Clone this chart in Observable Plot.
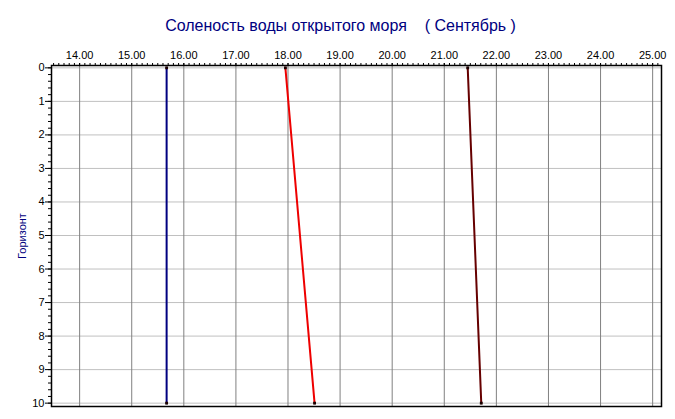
<!DOCTYPE html>
<html><head><meta charset="utf-8">
<script src="https://cdn.jsdelivr.net/npm/d3@7"></script>
<script src="https://cdn.jsdelivr.net/npm/@observablehq/plot@0.6"></script>
<style>body{margin:0;background:#fff}</style>
</head><body><div id="chart"></div>
<script>
const titleText = "Соленость воды открытого моря\u00A0\u00A0\u00A0\u00A0( Сентябрь )";
const yLabel = "Горизонт";
const horizons = [0, 10];
const seriesBlue = [15.67, 15.67];
const seriesRed = [17.95, 18.51];
const seriesDark = [21.45, 21.71];
const xTicks = [14, 15, 16, 17, 18, 19, 20, 21, 22, 23, 24, 25];
const yTicks = [0, 1, 2, 3, 4, 5, 6, 7, 8, 9, 10];

const series = [
  {values: seriesBlue, color: "#000080"},
  {values: seriesRed, color: "#ee0000"},
  {values: seriesDark, color: "#660000"}
];
const rows = series.flatMap((s, k) => horizons.map((h, i) => ({k, h, v: s.values[i], color: s.color})));

const xMinor = d3.range(135, 252).map(d => d / 10);
const yMinor = d3.range(0, 51).map(d => d / 5);

const font = "Arial, 'Liberation Sans', sans-serif";
const chart = Plot.plot({
  width: 675,
  height: 419,
  marginLeft: 51,
  marginRight: 14,
  marginTop: 65,
  marginBottom: 13,
  style: {fontFamily: font, fontSize: "11px", color: "#000", background: "#fff"},
  x: {domain: [13.46, 25.17], axis: null},
  y: {domain: [-0.07, 10.1], reverse: true, axis: null},
  marks: [
    Plot.ruleY(yTicks, {stroke: "#c0c0c0", strokeWidth: 1}),
    Plot.ruleX(xTicks, {stroke: "#808080", strokeWidth: 1}),
    Plot.axisX(xMinor, {anchor: "top", tickSize: 3, text: null, stroke: "#000", label: null}),
    Plot.axisX(xTicks, {anchor: "top", tickSize: 3, tickPadding: 4, tickFormat: d => d.toFixed(2), fill: "#000", fontSize: 11, label: null}),
    Plot.axisY(yMinor, {anchor: "left", tickSize: 3, text: null, stroke: "#000", label: null}),
    Plot.axisY(yTicks, {anchor: "left", tickSize: 6, tickPadding: 1, tickFormat: d => String(d), fill: "#000", fontSize: 11, label: null}),
    Plot.frame({stroke: "#000", strokeWidth: 1.5}),
    Plot.line(rows, {x: "v", y: "h", z: "k", stroke: "color", strokeWidth: 2}),
    Plot.dot(rows, {x: "v", y: "h", symbol: "square", r: 1.6, fill: "#1a0000", stroke: null}),
    Plot.text([titleText], {frameAnchor: "top", dy: -46, dx: -16, fill: "#000080", fontSize: 16}),
    Plot.text([yLabel], {frameAnchor: "left", textAnchor: "middle", dx: -29, rotate: -90, fill: "#000080", fontSize: 11})
  ]
});
document.getElementById("chart").append(chart);
</script>
</body></html>
